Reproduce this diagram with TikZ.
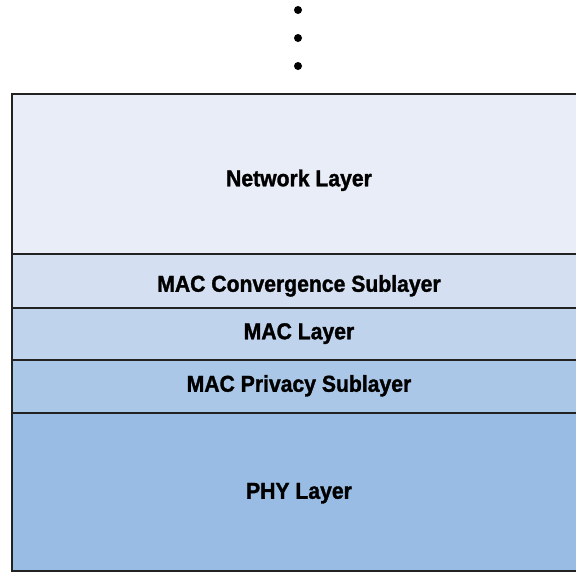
\documentclass[tikz,border=0pt]{standalone}
\usepackage{fontspec}
\setmainfont{Liberation Sans}
\newfontfamily\bandfont{Liberation Sans}[FakeStretch=0.92, BoldFeatures={FakeBold=1.4}]
\definecolor{edge}{HTML}{222222}
\definecolor{netfill}{HTML}{E8EDF8}
\definecolor{convfill}{HTML}{D4E0F1}
\definecolor{macfill}{HTML}{BFD3EC}
\definecolor{privfill}{HTML}{AAC7E7}
\definecolor{phyfill}{HTML}{99BCE4}
\tikzset{
  band/.style={draw=edge, line width=2.4pt, rectangle, anchor=north west,
    minimum width=574pt, inner sep=0pt, outer sep=0pt},
  bandtext/.style={font=\fontsize{23}{27}\bandfont\bfseries, text=black,
    inner sep=0pt, text height=16.5pt, text depth=0pt},
  stackdot/.style={circle, fill=black, draw=none, minimum size=8pt, inner sep=0pt}
}
\begin{document}
\begin{tikzpicture}[x=1pt, y=-1pt]
  \useasboundingbox (0,0) rectangle (576,573);
  \clip (0,0) rectangle (576,573);
  % ellipsis above the stack
  \node[stackdot] (d1) at (298,10) {};
  \node[stackdot] (d2) at (298,38) {};
  \node[stackdot] (d3) at (298,66) {};
  % protocol stack, top to bottom
  \node[band, fill=netfill,  minimum height=160pt] (net)  at (12,94)  {};
  \node[band, fill=convfill, minimum height=54pt]  (conv) at (12,254) {};
  \node[band, fill=macfill,  minimum height=52pt]  (mac)  at (12,308) {};
  \node[band, fill=privfill, minimum height=53pt]  (priv) at (12,360) {};
  \node[band, fill=phyfill,  minimum height=158pt] (phy)  at (12,413) {};
  % layer names
  \node[bandtext] (netlabel)  at ([yshift=-4pt]net.center)  {Network Layer};
  \node[bandtext] (convlabel) at ([yshift=-2.5pt]conv.center) {MAC Convergence Sublayer};
  \node[bandtext] (maclabel)  at ([yshift=3pt]mac.center)  {MAC Layer};
  \node[bandtext] (privlabel) at ([yshift=3pt]priv.center) {MAC Privacy Sublayer};
  \node[bandtext] (phylabel)  at ([yshift=1.5pt]phy.center)  {PHY Layer};
\end{tikzpicture}
\end{document}
